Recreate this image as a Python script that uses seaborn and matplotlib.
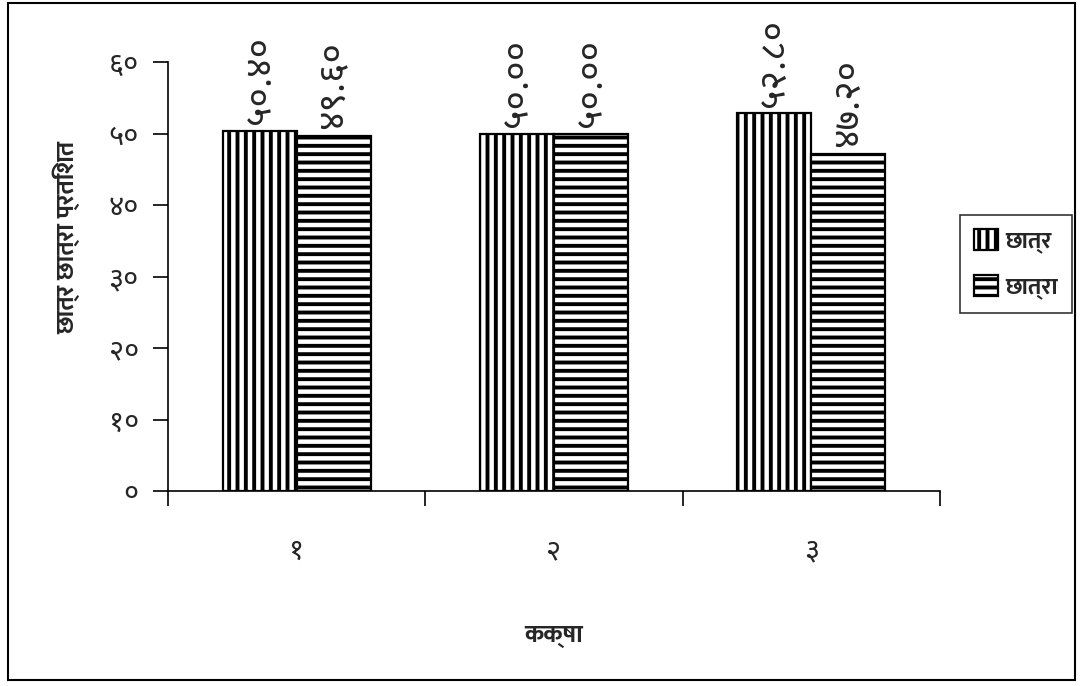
import numpy as np
import pandas as pd
import matplotlib
matplotlib.use("Agg")
import matplotlib.pyplot as plt
import seaborn as sns
from matplotlib import font_manager
from matplotlib.patches import Rectangle

# ---- data ----
categories = ["१", "२", "३"]
series_names = ["छात्र", "छात्रा"]
boys = [50.40, 50.00, 52.80]
girls = [49.60, 50.00, 47.20]
boys_labels = ["५०.४०", "५०.००", "५२.८०"]
girls_labels = ["४९.६०", "५०.००", "४७.२०"]
y_ticks = [0, 10, 20, 30, 40, 50, 60]
y_tick_labels = ["०", "१०", "२०", "३०", "४०", "५०", "६०"]
x_title = "कक्षा"
y_title = "छात्र छात्रा प्रतिशत"

sns.set_theme(style="white")

fonts = font_manager.fontManager.ttflist
available = {f.name for f in fonts}


def _w(f):
    try:
        return int(f.weight)
    except Exception:
        return 700 if "bold" in str(f.weight).lower() else 400


pref = ["Noto Sans Devanagari", "Mukta", "Hind", "Annapurna SIL", "FreeSans"]
deva = [p for p in pref if p in available]
reg_family = deva[0] if deva else "DejaVu Sans"
bold_family = reg_family
for p in pref:
    if any(f.name == p and _w(f) >= 600 for f in fonts):
        bold_family = p
        break

plt.rcParams["font.family"] = [reg_family, "DejaVu Sans"]
plt.rcParams["hatch.linewidth"] = 2.8
plt.rcParams["hatch.color"] = "black"

df = pd.DataFrame({
    "cat": categories * 2,
    "series": [series_names[0]] * 3 + [series_names[1]] * 3,
    "value": boys + girls,
})

fig = plt.figure(figsize=(10.83, 6.86), dpi=100)
ax = fig.add_axes([168 / 1083, 1 - 491 / 686, (940 - 168) / 1083, (491 - 62) / 686])

sns.barplot(data=df, x="cat", y="value", hue="series", order=categories,
            hue_order=series_names, width=0.576, ax=ax, gap=0,
            facecolor="white", edgecolor="black", linewidth=1.6, errorbar=None)

hatches = ["||", "--"]
labels_all = [boys_labels, girls_labels]
for cont, h, labs in zip(ax.containers, hatches, labels_all):
    for bar, lab in zip(cont, labs):
        bar.set_hatch(h)
        bar.set_facecolor("white")
        bar.set_edgecolor("black")
        ax.annotate(lab, (bar.get_x() + bar.get_width() / 2, bar.get_height()),
                    xytext=(0, 5), textcoords="offset points", rotation=90,
                    ha="center", va="bottom", fontsize=27, annotation_clip=False)

ax.set_ylim(0, 60)
ax.set_xlim(-0.5, 2.5)
ax.set_yticks(y_ticks)
ax.set_yticklabels(y_tick_labels, fontsize=21)
ax.set_xticks([-0.5, 0.5, 1.5, 2.5])
ax.set_xticklabels([])
ax.set_xticks([0, 1, 2], minor=True)
ax.set_xticklabels(categories, minor=True, fontsize=21)
ax.tick_params(axis="x", which="minor", length=0, pad=33)
ax.tick_params(axis="x", which="major", direction="out", length=11, width=1.2, color="black", bottom=True)
ax.tick_params(axis="y", direction="out", length=11, width=1.2, color="black", left=True, pad=10)
for s in ["top", "right"]:
    ax.spines[s].set_visible(False)
for s in ["left", "bottom"]:
    ax.spines[s].set_color("black")
    ax.spines[s].set_linewidth(1.2)

ax.set_xlabel(x_title, fontsize=18, fontweight="bold", family=[bold_family, "DejaVu Sans"], labelpad=42)
ax.set_ylabel(y_title, fontsize=18, fontweight="bold", family=[bold_family, "DejaVu Sans"])
ax.yaxis.set_label_coords((80 - 168) / 772, (491 - 237) / 429)

handles, _ = ax.get_legend_handles_labels()
leg = ax.legend(handles, series_names, loc="center left", bbox_to_anchor=(960 / 1083, 1 - 264 / 686),
                bbox_transform=fig.transFigure, frameon=True, fancybox=False, borderaxespad=0,
                handlelength=1.0, handleheight=1.0, handletextpad=0.3, labelspacing=0.9,
                borderpad=0.6, prop={"weight": "bold", "size": 17, "family": [bold_family, "DejaVu Sans"]})
leg.get_frame().set_edgecolor("black")
leg.get_frame().set_linewidth(1.2)
for hd, h in zip(leg.legend_handles, hatches):
    hd.set_hatch(h)
    hd.set_facecolor("white")
    hd.set_edgecolor("black")

fig.patches.append(Rectangle((8 / 1083, 1 - 680 / 686), (1075 - 8) / 1083, (680 - 3) / 686,
                             transform=fig.transFigure, fill=False, edgecolor="black", linewidth=1.5))

fig.savefig("out.png", dpi=100)
